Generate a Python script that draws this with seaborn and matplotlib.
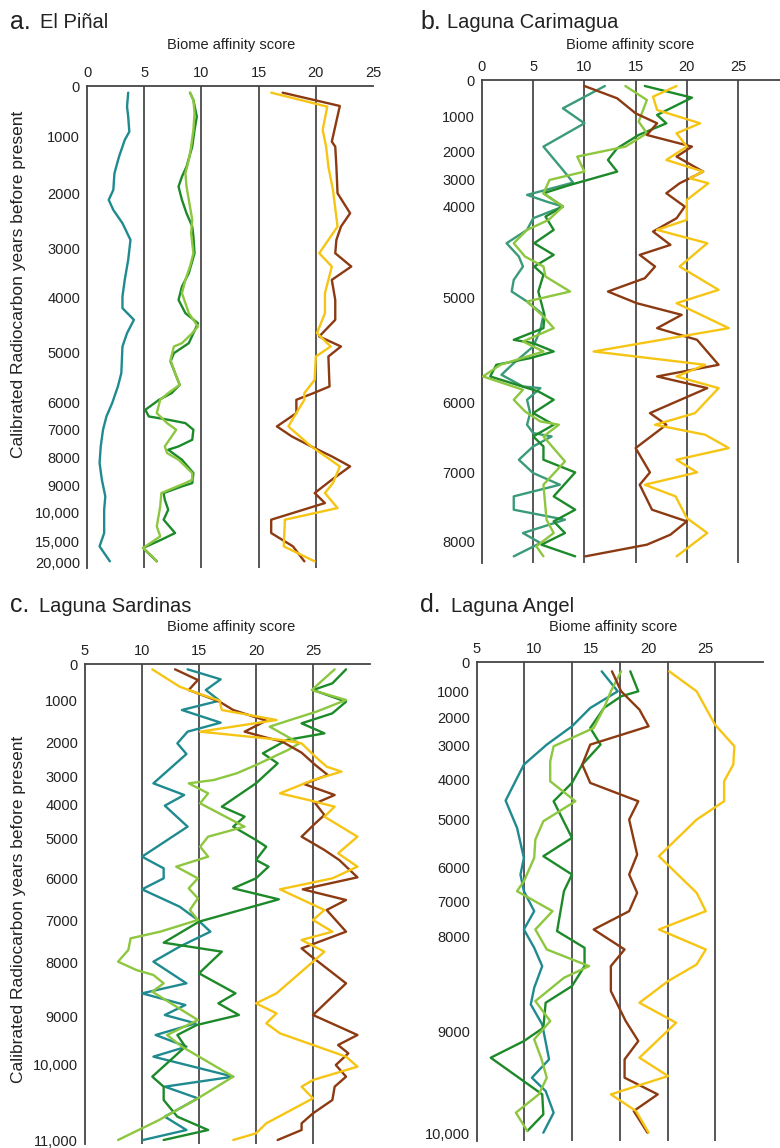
import matplotlib
matplotlib.use("Agg")
import matplotlib.pyplot as plt
import seaborn as sns

# ---------------- colours ----------------
TEAL = "#1f8a8f"
SEAGREEN = "#3a9b78"
DKGREEN = "#1d8a2a"
LTGREEN = "#8dc63f"
BROWN = "#8c3a12"
YELLOW = "#f6c514"

# ---------------- panel a: El Piñal ----------------
a_age_depth = [0, 153, 324, 489, 636, 801, 951, 1032, 1116, 1200, 1281, 1368, 1431]
a_age_labels = ["0", "1000", "2000", "3000", "4000", "5000", "6000", "7000",
                "8000", "9000", "10,000", "15,000", "20,000"]
a_xticks = [0, 5, 10, 15, 20, 25]
a_vlines = [5, 10, 15, 20]

a_teal_score = [3.6, 3.5, 3.6, 3.7, 3.3, 2.8, 2.4, 2.3, 1.9, 2.3, 3.1, 3.8, 3.6, 3.3, 3.1, 3.1,
                4.1, 3.5, 3.1, 3.0, 2.7, 2.2, 1.7, 1.4, 1.2, 1.1, 1.3, 1.6, 1.5, 1.5, 1.1, 2.0]
a_teal_depth = [20, 62, 92, 137, 162, 212, 262, 312, 342, 372, 412, 462, 522, 582, 632, 667,
                702, 742, 782, 862, 902, 952, 992, 1032, 1082, 1132, 1182, 1232, 1272, 1342, 1382, 1427]

a_dkgreen_score = [9.0, 9.3, 9.6, 9.4, 9.2, 8.7, 8.3, 8.0, 8.3, 8.7, 9.2, 9.3, 9.4, 8.9, 8.3, 8.0,
                   8.6, 9.7, 8.9, 7.6, 7.3, 7.7, 8.1, 7.4, 6.3, 5.1, 5.4, 7.1, 8.6, 9.3, 9.2, 8.0,
                   7.1, 8.3, 9.3, 9.2, 8.3, 6.7, 6.8, 7.1, 6.7, 7.7, 6.5, 4.9, 6.1]
a_dkgreen_depth = [20, 42, 92, 132, 182, 242, 272, 302, 342, 382, 422, 452, 502, 562, 602, 642,
                   682, 712, 772, 802, 827, 862, 897, 922, 942, 972, 992, 1002, 1012, 1032, 1062, 1082,
                   1092, 1122, 1162, 1192, 1202, 1222, 1242, 1272, 1302, 1342, 1362, 1387, 1427]

a_ltgreen_score = [9.0, 9.3, 9.4, 9.3, 9.1, 8.9, 8.6, 8.7, 9.0, 9.2, 9.1, 9.3, 9.0, 8.6, 8.3, 8.9,
                   9.7, 9.2, 8.3, 7.6, 7.3, 7.7, 8.1, 7.1, 6.4, 6.1, 7.0, 7.8, 6.8, 7.0, 8.0, 9.2,
                   9.2, 8.6, 6.5, 6.4, 6.1, 6.4, 4.9, 5.7, 6.1]
a_ltgreen_depth = [20, 42, 82, 132, 182, 222, 262, 302, 362, 402, 442, 502, 542, 582, 622, 682,
                   722, 742, 772, 782, 822, 862, 897, 922, 942, 982, 1012, 1032, 1082, 1102, 1122, 1162,
                   1182, 1192, 1222, 1262, 1322, 1352, 1387, 1412, 1427]

a_brown_score = [17.1, 22.1, 21.4, 21.7, 21.8, 21.9, 23.0, 22.2, 21.8, 21.7, 23.1, 21.4, 21.7, 21.7,
                 20.3, 22.2, 21.1, 21.2, 19.8, 18.3, 18.3, 16.6, 17.9, 19.6, 21.4, 23.0, 21.4, 19.9,
                 20.8, 16.1, 16.1, 18.0, 19.0]
a_brown_depth = [20, 60, 167, 182, 242, 322, 382, 422, 462, 502, 542, 582, 642, 702,
                 752, 782, 812, 902, 922, 942, 982, 1022, 1052, 1082, 1112, 1142, 1182, 1222,
                 1252, 1302, 1342, 1382, 1427]

a_yellow_score = [16.1, 21.0, 20.6, 20.9, 21.1, 21.5, 21.9, 20.3, 21.4, 20.8, 20.8, 20.1, 21.3,
                  20.0, 19.9, 19.0, 19.0, 17.6, 19.6, 22.1, 21.5, 20.8, 21.9, 17.3, 17.2, 19.9]
a_yellow_depth = [20, 62, 132, 182, 242, 312, 422, 502, 542, 622, 682, 742, 782,
                  812, 882, 922, 942, 1022, 1082, 1142, 1192, 1222, 1267, 1302, 1382, 1427]

# ---------------- panel b: Laguna Carimagua ----------------
b_age_depth = [0, 111, 216, 300, 381, 654, 969, 1179, 1386]
b_age_labels = ["0", "1000", "2000", "3000", "4000", "5000", "6000", "7000", "8000"]
b_xticks = [0, 5, 10, 15, 20, 25]
b_vlines = [5, 10, 15, 20, 25]

b_seagreen_score = [12.0, 7.9, 10.0, 6.0, 7.9, 8.9, 4.4, 6.3, 7.9, 5.0, 4.4, 2.4, 3.6, 4.0, 3.1, 2.9,
                    4.4, 6.0, 5.7, 5.0, 3.1, 1.9, 4.0, 5.7, 4.4, 4.7, 4.4, 5.0, 6.8, 5.0, 3.6, 5.0,
                    7.6, 3.1, 3.1, 8.1, 4.0, 5.7, 3.1]
b_seagreen_depth = [18, 85, 130, 200, 270, 308, 345, 365, 380, 415, 450, 490, 530, 560, 600, 635,
                    665, 705, 750, 800, 850, 885, 920, 925, 960, 1000, 1035, 1060, 1070, 1100, 1140, 1180,
                    1215, 1250, 1290, 1320, 1360, 1390, 1430]

b_dkgreen_score = [15.9, 20.5, 17.1, 18.0, 15.3, 13.2, 12.3, 13.2, 8.6, 6.0, 7.9, 6.2, 7.0, 5.1,
                   7.0, 5.1, 6.0, 5.5, 6.1, 6.0, 3.1, 5.0, 7.0, 4.7, 1.4, 0.8, 5.5, 7.0, 5.0, 7.0,
                   5.0, 6.0, 6.0, 9.1, 7.0, 9.1, 7.0, 8.1, 5.8, 9.1]
b_dkgreen_depth = [18, 53, 105, 130, 165, 205, 240, 275, 315, 340, 380, 410, 450, 490,
                   525, 560, 585, 635, 705, 745, 780, 790, 815, 835, 855, 890, 935, 960, 1000, 1035,
                   1070, 1100, 1140, 1178, 1250, 1290, 1325, 1360, 1395, 1430]

b_ltgreen_score = [14.0, 16.1, 15.3, 16.1, 14.0, 9.3, 10.0, 6.6, 6.0, 7.9, 6.5, 4.4, 3.1, 4.2, 6.0,
                   6.2, 8.6, 4.4, 6.0, 7.0, 4.0, 6.0, 1.8, 0.1, 4.0, 3.1, 4.2, 5.7, 7.5, 6.0, 8.1,
                   6.0, 6.3, 7.0, 5.3, 6.0]
b_ltgreen_depth = [18, 60, 125, 160, 200, 230, 275, 300, 340, 380, 420, 450, 490, 530, 560,
                   590, 635, 665, 710, 745, 785, 815, 855, 890, 930, 960, 995, 1025, 1035, 1070, 1145,
                   1215, 1320, 1360, 1400, 1430]

b_brown_score = [10.0, 13.2, 15.0, 17.1, 16.1, 20.5, 19.0, 21.6, 19.3, 18.0, 19.8, 19.0, 16.7, 18.4,
                 15.4, 16.9, 15.9, 12.3, 15.1, 19.5, 17.1, 21.0, 23.1, 17.1, 22.0, 16.4, 18.0, 15.0,
                 16.4, 15.4, 16.6, 20.0, 18.4, 16.1, 10.1]
b_brown_depth = [18, 55, 100, 130, 165, 200, 230, 275, 310, 340, 380, 415, 455, 495,
                 525, 560, 595, 635, 670, 705, 745, 780, 855, 890, 925, 1000, 1035, 1105,
                 1178, 1215, 1290, 1325, 1365, 1395, 1430]

b_yellow_score = [19.0, 16.7, 17.1, 21.3, 19.0, 20.0, 18.0, 21.6, 20.3, 22.1, 20.0, 20.0, 17.1, 22.0,
                  19.3, 23.1, 19.0, 24.1, 10.9, 21.8, 19.0, 23.1, 20.8, 16.9, 21.8, 24.1, 19.0, 21.0,
                  15.9, 18.9, 20.0, 22.0, 19.0]
b_yellow_depth = [18, 50, 90, 130, 160, 200, 240, 275, 295, 310, 360, 420, 450, 490,
                  560, 630, 670, 745, 815, 855, 890, 925, 1000, 1035, 1065, 1105, 1140, 1178,
                  1215, 1250, 1315, 1360, 1430]

# ---------------- panel c: Laguna Sardinas ----------------
c_age_depth = [0, 111, 237, 339, 420, 522, 645, 771, 894, 1059, 1200, 1428]
c_age_labels = ["0", "1000", "2000", "3000", "4000", "5000", "6000", "7000", "8000",
                "9000", "10,000", "11,000"]
c_xticks = [5, 10, 15, 20, 25]
c_vlines = [10, 15, 20, 25]

c_teal_score = [14.0, 16.9, 15.6, 16.8, 13.5, 16.9, 14.0, 13.1, 13.9, 11.0, 13.7, 12.0, 14.0, 10.0,
                11.9, 11.9, 10.0, 13.3, 14.9, 16.0, 13.3, 11.0, 13.9, 10.0, 13.8, 12.0, 14.7, 11.2,
                13.9, 11.0, 18.0, 12.0, 14.9, 12.0, 13.9, 10.1]
c_teal_depth = [16, 46, 78, 110, 138, 176, 203, 238, 270, 358, 393, 425, 488, 578,
                613, 643, 676, 728, 768, 803, 848, 893, 958, 988, 1023, 1053, 1078, 1113,
                1148, 1178, 1238, 1268, 1303, 1358, 1398, 1428]

c_dkgreen_score = [27.9, 26.7, 25.0, 27.9, 26.7, 24.0, 26.0, 22.7, 20.6, 21.9, 20.0, 17.0, 19.0,
                   18.0, 20.0, 20.9, 20.0, 21.1, 20.0, 18.0, 22.0, 15.0, 11.9, 17.0, 15.0, 18.2,
                   16.7, 18.5, 14.8, 13.1, 13.8, 10.9, 11.9, 11.9, 13.1, 15.8, 11.9]
c_dkgreen_depth = [16, 58, 78, 113, 148, 178, 208, 228, 268, 298, 358, 428, 458,
                   488, 528, 548, 588, 608, 643, 673, 706, 773, 836, 863, 928, 988,
                   1018, 1053, 1083, 1113, 1148, 1238, 1268, 1308, 1358, 1398, 1428]

c_ltgreen_score = [26.9, 25.7, 24.9, 27.9, 25.3, 23.0, 21.2, 23.8, 22.8, 20.0, 18.3, 16.3, 14.1,
                   15.8, 15.1, 19.0, 15.8, 15.1, 15.8, 13.0, 14.9, 14.1, 14.9, 14.2, 14.9, 11.6,
                   9.0, 8.8, 7.9, 9.5, 11.0, 11.9, 10.9, 14.9, 12.2, 13.5, 18.0, 14.9, 11.5, 7.9]
c_ltgreen_depth = [16, 53, 78, 108, 143, 168, 188, 238, 258, 303, 328, 348, 358,
                   388, 418, 488, 518, 548, 578, 608, 643, 673, 703, 738, 768, 803,
                   823, 858, 893, 918, 933, 958, 983, 1068, 1113, 1148, 1238, 1303, 1368, 1428]

c_brown_score = [12.9, 14.9, 14.1, 16.8, 18.0, 20.9, 19.0, 20.6, 22.3, 24.0, 25.2, 26.3, 24.2,
                 26.9, 25.2, 26.0, 25.2, 24.0, 26.0, 27.3, 28.9, 24.1, 27.9, 26.2, 27.9, 24.0,
                 24.7, 27.9, 25.0, 28.9, 27.2, 28.1, 27.0, 27.9, 26.9, 26.7, 25.0, 24.0, 24.0, 21.9]
c_brown_depth = [16, 48, 78, 113, 138, 170, 203, 218, 233, 266, 303, 333, 360,
                 393, 418, 453, 478, 518, 558, 588, 640, 676, 708, 738, 803, 853,
                 873, 958, 1053, 1113, 1143, 1168, 1203, 1238, 1268, 1308, 1348, 1378, 1398, 1428]

c_yellow_score = [10.9, 13.3, 14.9, 16.8, 17.0, 21.8, 15.1, 22.3, 24.0, 25.2, 26.2, 27.5, 25.0,
                  22.1, 24.6, 26.9, 26.0, 28.9, 27.2, 28.9, 26.7, 22.1, 26.0, 25.0, 26.7, 24.0,
                  26.0, 25.0, 21.8, 20.0, 21.8, 20.9, 22.1, 27.9, 28.9, 25.0, 24.0, 25.0, 20.9,
                  20.0, 18.0]
c_yellow_depth = [16, 68, 88, 110, 138, 168, 203, 228, 238, 278, 308, 323, 348,
                  388, 408, 428, 458, 518, 568, 608, 643, 676, 738, 768, 803, 828,
                  863, 893, 988, 1018, 1048, 1078, 1108, 1178, 1208, 1248, 1268, 1303, 1378,
                  1408, 1428]

# ---------------- panel d: Laguna Angel ----------------
d_age_depth = [0, 90, 168, 252, 354, 474, 618, 720, 825, 1110, 1416]
d_age_labels = ["0", "1000", "2000", "3000", "4000", "5000", "6000", "7000", "8000",
                "9000", "10,000"]
d_xticks = [5, 10, 15, 20, 25]
d_vlines = [9.15, 13.3, 17.5, 21.7, 25.8]

d_teal_score = [15.9, 17.3, 14.9, 13.3, 11.1, 9.1, 7.5, 8.5, 9.1, 8.8, 9.1, 10.0, 9.1, 10.0, 10.7,
                10.0, 9.7, 10.7, 11.3, 9.8, 11.0, 11.7, 10.8]
d_teal_depth = [28, 88, 138, 193, 248, 308, 416, 498, 588, 638, 688, 748, 803, 858, 913,
                978, 1028, 1088, 1193, 1248, 1288, 1353, 1413]

d_ltgreen_score = [17.6, 16.7, 16.1, 15.2, 11.7, 11.4, 11.4, 13.6, 10.8, 10.1, 10.0, 9.1, 8.5,
                   11.6, 10.1, 11.1, 14.8, 12.6, 10.1, 11.4, 10.0, 10.6, 11.1, 10.4, 8.4, 9.4]
d_ltgreen_depth = [28, 88, 138, 198, 253, 298, 358, 418, 478, 533, 588, 658, 688,
                   748, 803, 863, 913, 948, 1018, 1078, 1133, 1188, 1248, 1298, 1353, 1408]

d_dkgreen_score = [18.4, 19.1, 17.6, 16.1, 14.9, 15.8, 14.2, 13.3, 11.7, 13.3, 10.8, 13.3, 12.6,
                   12.0, 14.4, 14.4, 13.3, 11.0, 10.8, 9.1, 6.2, 10.7, 10.8, 9.4]
d_dkgreen_depth = [28, 88, 103, 138, 198, 248, 308, 363, 418, 528, 583, 638, 688,
                   808, 858, 913, 973, 1023, 1098, 1138, 1188, 1298, 1358, 1408]

d_brown_score = [16.8, 17.6, 19.2, 20.0, 14.9, 14.2, 14.9, 19.1, 18.3, 19.0, 18.3, 19.0, 18.3,
                 15.2, 17.9, 16.7, 16.7, 18.0, 19.1, 17.9, 17.9, 20.8, 18.7, 19.9]
d_brown_depth = [28, 88, 143, 193, 248, 308, 363, 418, 473, 578, 638, 693, 748,
                 803, 863, 913, 988, 1078, 1138, 1193, 1248, 1298, 1348, 1413]

d_yellow_score = [21.8, 24.2, 25.8, 27.5, 27.4, 26.6, 26.6, 24.2, 20.9, 24.2, 25.0, 20.9, 25.0,
                  24.2, 21.7, 19.2, 22.4, 19.2, 21.7, 16.7, 18.9, 20.0]
d_yellow_depth = [28, 88, 188, 253, 308, 358, 418, 473, 583, 693, 748, 803, 863,
                  908, 958, 1023, 1083, 1188, 1243, 1298, 1348, 1413]

# ---------------- figure ----------------
sns.set_theme(style="white")
plt.rcParams["font.family"] = ["Liberation Sans", "DejaVu Sans"]

W, H = 780, 1148
fig = plt.figure(figsize=(W / 100, H / 100), dpi=100)
fig.patch.set_facecolor("white")


def px_axes(left, top, right, bottom):
    return fig.add_axes([left / W, 1 - bottom / H, (right - left) / W, (bottom - top) / H])


def draw_panel(ax, series, xlim, ymax, vlines, xticks, ydepth, ylabels):
    for v in vlines:
        ax.axvline(v, color="#2a2a2a", lw=1.1, zorder=1)
    for score, depth, color in series:
        sns.lineplot(x=score, y=depth, ax=ax, color=color, lw=1.7, sort=False,
                     estimator=None, orient="y", zorder=3)
    ax.set_xlim(*xlim)
    ax.set_ylim(ymax, 0)
    ax.xaxis.tick_top()
    ax.set_xticks(xticks)
    ax.set_xticklabels([str(t) for t in xticks])
    ax.set_yticks(ydepth)
    ax.set_yticklabels(ylabels)
    ax.tick_params(axis="x", length=0, pad=4, labelsize=10.5, colors="#222222")
    ax.tick_params(axis="y", length=0, pad=5, labelsize=10.5, colors="#222222")
    ax.set_xlabel("")
    ax.set_ylabel("")
    for s in ["right", "bottom"]:
        ax.spines[s].set_visible(False)
    for s in ["left", "top"]:
        ax.spines[s].set_visible(True)
        ax.spines[s].set_color("#444444")
        ax.spines[s].set_linewidth(1.3)
    ax.set_facecolor("white")
    ax.grid(False)


ax_a = px_axes(87, 86, 373, 568)
draw_panel(ax_a,
           [(a_teal_score, a_teal_depth, TEAL),
            (a_dkgreen_score, a_dkgreen_depth, DKGREEN),
            (a_ltgreen_score, a_ltgreen_depth, LTGREEN),
            (a_brown_score, a_brown_depth, BROWN),
            (a_yellow_score, a_yellow_depth, YELLOW)],
           (0, 25), 1447, a_vlines, a_xticks, a_age_depth, a_age_labels)

ax_b = px_axes(482, 80, 780, 563)
draw_panel(ax_b,
           [(b_seagreen_score, b_seagreen_depth, SEAGREEN),
            (b_dkgreen_score, b_dkgreen_depth, DKGREEN),
            (b_ltgreen_score, b_ltgreen_depth, LTGREEN),
            (b_brown_score, b_brown_depth, BROWN),
            (b_yellow_score, b_yellow_depth, YELLOW)],
           (0, 29.1), 1450, b_vlines, b_xticks, b_age_depth, b_age_labels)

ax_c = px_axes(85, 664, 370, 1144)
draw_panel(ax_c,
           [(c_teal_score, c_teal_depth, TEAL),
            (c_dkgreen_score, c_dkgreen_depth, DKGREEN),
            (c_ltgreen_score, c_ltgreen_depth, LTGREEN),
            (c_brown_score, c_brown_depth, BROWN),
            (c_yellow_score, c_yellow_depth, YELLOW)],
           (5, 30), 1440, c_vlines, c_xticks, c_age_depth, c_age_labels)

ax_d = px_axes(477, 662, 763, 1141)
draw_panel(ax_d,
           [(d_teal_score, d_teal_depth, TEAL),
            (d_dkgreen_score, d_dkgreen_depth, DKGREEN),
            (d_ltgreen_score, d_ltgreen_depth, LTGREEN),
            (d_brown_score, d_brown_depth, BROWN),
            (d_yellow_score, d_yellow_depth, YELLOW)],
           (5, 30), 1438, d_vlines, d_xticks, d_age_depth, d_age_labels)


def ftext(x, y, s, **kw):
    fig.text(x / W, 1 - y / H, s, **kw)


# panel titles
titles = [(10, 22, "a.", 40, "El Piñal"),
          (420, 22, "b.", 447, "Laguna Carimagua"),
          (10, 605, "c.", 39, "Laguna Sardinas"),
          (420, 605, "d.", 451, "Laguna Angel")]
for x0, y0, letter, x1, name in titles:
    ftext(x0, y0, letter, fontsize=18, va="center", ha="left", color="#222222")
    ftext(x1, y0 + 1, name, fontsize=14.5, va="center", ha="left", color="#222222")

# x-axis titles
for cx, cy in [(231, 45), (630, 45), (231, 627), (613, 627)]:
    ftext(cx, cy, "Biome affinity score", fontsize=10.5, ha="center", va="center", color="#222222")

# y-axis titles
for cy in [284, 909]:
    ftext(19, cy, "Calibrated Radiocarbon years before present", fontsize=12.5, rotation=90,
          ha="center", va="center", color="#222222")

fig.savefig("out.png", dpi=100, facecolor="white")
